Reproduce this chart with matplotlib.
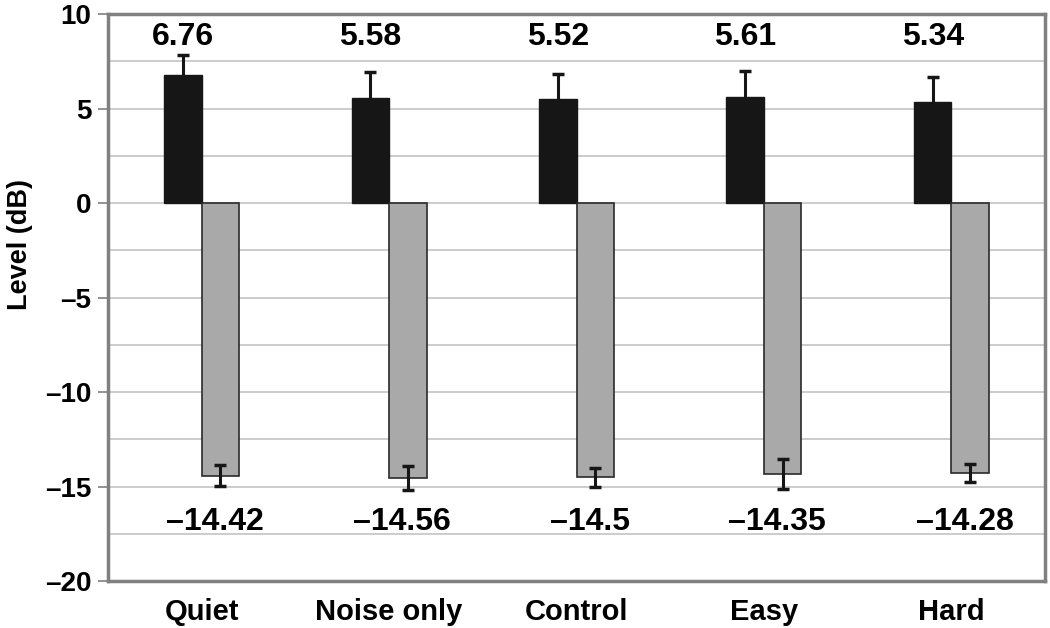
import matplotlib.pyplot as plt
import numpy as np

plt.rcParams['font.family'] = ['Liberation Sans', 'DejaVu Sans']

conditions = ["Quiet", "Noise only", "Control", "Easy", "Hard"]
upper = [6.76, 5.58, 5.52, 5.61, 5.34]
lower = [-14.42, -14.56, -14.5, -14.35, -14.28]
upper_err = [1.07, 1.35, 1.3, 1.37, 1.33]
lower_err = [0.55, 0.65, 0.5, 0.8, 0.48]
upper_text = ["6.76", "5.58", "5.52", "5.61", "5.34"]
lower_text = ["\u201314.42", "\u201314.56", "\u201314.5", "\u201314.35", "\u201314.28"]
yticks = [10, 5, 0, -5, -10, -15, -20]

x = np.arange(len(conditions))
width = 0.2
grid_col = '#c8c8c8'
spine_col = '#808080'

fig = plt.figure(figsize=(10.5, 6.28), dpi=100)
ax = fig.add_axes([0.1029, 0.0748, 0.8924, 0.9029])

ax.set_ylim(-20, 10)
ax.set_xlim(-0.5, 4.5)
for g in np.arange(-17.5, 10, 2.5):
    ax.axhline(g, color=grid_col, lw=1.3, zorder=0)

ax.bar(x - width / 2, upper, width, color='#161616', edgecolor='#161616', zorder=2)
ax.bar(x + width / 2, lower, width, color='#a9a9a9', edgecolor='#2a2a2a', lw=1.2, zorder=2)
ax.errorbar(x - width / 2, upper, yerr=upper_err, fmt='none', ecolor='#161616',
            elinewidth=2.2, capsize=4, capthick=2.5, zorder=3)
ax.errorbar(x + width / 2, lower, yerr=lower_err, fmt='none', ecolor='#161616',
            elinewidth=2.2, capsize=4, capthick=2.5, zorder=3)

for i in range(len(conditions)):
    ax.text(x[i] - width / 2, 8.8, upper_text[i], ha='center', va='center',
            fontsize=23, weight='bold')
    ax.text(x[i] + width / 2 - 0.03, -16.9, lower_text[i], ha='center', va='center',
            fontsize=23, weight='bold')

ax.set_yticks(yticks)
ax.set_yticklabels([str(t).replace('-', '\u2013') for t in yticks], fontsize=20, weight='bold')
ax.set_xticks(x)
ax.set_xticklabels(conditions, fontsize=21, weight='bold')
ax.tick_params(axis='x', length=0, pad=12)
ax.tick_params(axis='y', length=7, width=1.2, color=spine_col, pad=5)
ax.set_ylabel('Level (dB)', fontsize=19.5, weight='bold')
ax.yaxis.set_label_coords(-0.08, 0.594)

for s in ax.spines.values():
    s.set_color(spine_col)
    s.set_linewidth(2.5)

fig.savefig('out.png', dpi=100)
